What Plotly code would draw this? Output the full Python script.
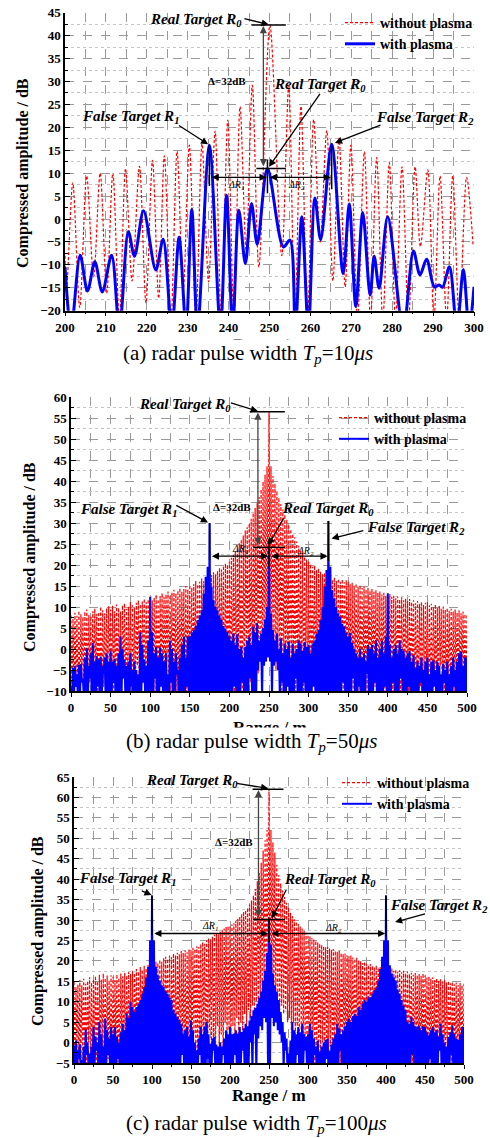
import numpy as np
import plotly.graph_objects as go

# ---------------- (a) Tp = 10 us : lobe-by-lobe readings ----------------
A_RED_X = [200.0, 200.4, 201.9, 203.6, 205.3, 207.0, 208.6, 210.2, 211.7, 213.3, 214.8, 216.4,
           218.2, 219.8, 221.4, 222.9, 224.3, 225.9, 227.4, 228.9, 230.4, 232.0, 233.5, 235.1,
           236.7, 238.2, 239.8, 241.3, 242.8, 244.3, 245.8, 247.4, 250.1, 253.0, 254.7, 256.2,
           257.7, 259.3, 260.8, 262.4, 264.0, 265.5, 267.0, 268.5, 269.9, 271.5, 273.2, 274.7,
           276.2, 277.7, 279.3, 280.8, 282.4, 284.0, 285.6, 286.9, 288.7, 290.2, 291.7, 293.3,
           294.8, 296.4, 298.2, 299.8]
A_RED_Y = [-8, -15, 7.9, -19.3, 9.4, -12.6, 10.0, -16.2, 10.0, -22, 11.0, -13.5,
           11.5, -18.3, 12.8, -17.3, 13.8, -22, 14.8, -15.8, 16.1, -22, 16.4, -13.7,
           19.2, -22, 21.6, -22, 24.5, -7, 29.2, -10.5, 42.3, -8, 29.0, -22,
           24.6, -22, 21.7, -5, 19.3, -13.5, 17.6, -14.8, 16.1, -22, 14.7, -22,
           13.4, -22, 12.3, -22, 11.4, -22, 11.4, -6, 10.7, -22, 9.4, -22,
           9.4, -22, 9.1, -6]
A_BLUE_X = [200.0, 201.5, 203.7, 205.5, 207.3, 209.1, 211.4, 213.3, 215.5, 217.0, 219.2, 222.2,
            224.0, 226.1, 227.9, 229.6, 231.0, 232.4, 235.3, 238.0, 239.5, 241.0, 242.5, 244.1,
            245.6, 247.0, 249.5, 253.4, 255.0, 256.3, 257.9, 259.5, 261.1, 262.5, 265.2, 268.0,
            269.5, 271.1, 272.8, 274.6, 275.6, 276.8, 278.9, 282.7, 285.2, 286.8, 288.4, 290.3,
            291.5, 292.3, 294.0, 295.8, 297.4, 298.8, 300.0]
A_BLUE_Y = [-10.5, -24, -7.9, -15.7, -9.3, -15.9, -7.9, -24, -2.8, -8.1, 1.8, -11.1,
            -4.4, -24, -4.0, -24, 2.1, -24, 16.1, -24, 5.2, -24, 1.9, -9.7,
            3.4, -5.5, 11.0, -6.1, -4.6, -24, 0.5, -24, 4.6, -4.5, 16.3, -11.9,
            3.3, -19.1, 1.4, -16.6, -8.1, -15.1, 0.5, -24, -7.0, -12.2, -8.8, -14.8,
            -14.4, -14.9, -10.4, -24, -11.0, -24, -14.8]

# ---------------- (b) Tp = 50 us : lobe tops every 2.5 m, nulls between ----------------
B_RED_PEAKS = [
    8.0, 7.2, 8.6, 7.9, 9.1, 8.3, 7.6, 8.9, 9.4, 8.1, 7.8, 9.0, 9.6, 8.4, 8.8, 10.1, 9.2, 8.5, 9.7, 10.2,
    9.4, 10.3, 9.0, 10.6, 9.8, 8.9, 10.4, 10.9, 9.6, 10.1, 11.2, 10.4, 9.9, 11.0, 11.6, 10.7, 11.3, 12.0, 11.1, 11.8,
    12.4, 11.6, 12.2, 12.9, 11.8, 12.6, 13.3, 12.4, 13.0, 13.7, 12.8, 13.4, 14.1, 13.2, 13.9, 14.5, 13.6, 14.3, 15.0, 14.2,
    15.2, 14.6, 15.5, 16.2, 15.4, 16.0, 16.8, 16.1, 16.6, 17.4, 16.9, 17.6, 18.3, 17.8, 18.6, 19.3, 18.9, 19.8, 20.4, 20.1,
    20.8, 21.7, 22.4, 23.3, 24.0, 25.2, 26.1, 27.0, 28.2, 29.0, 29.9, 31.0, 32.4, 33.6, 34.7, 36.2, 38.0, 39.8, 41.5, 43.5,
    56.5, 43.5, 41.2, 39.4, 37.6, 36.0, 34.5, 33.2, 32.0, 30.8, 29.6, 28.5, 27.4, 26.6, 25.6, 24.6, 23.6, 22.8, 22.0, 21.3,
    20.8, 20.2, 19.6, 19.9, 18.8, 19.2, 18.4, 17.8, 18.1, 17.2, 16.8, 17.3, 16.5, 17.0, 16.2, 16.7, 16.0, 16.6, 15.9, 16.4,
    16.0, 15.4, 15.8, 15.1, 15.6, 14.8, 15.2, 14.5, 14.9, 14.2, 14.6, 13.9, 14.3, 13.6, 14.0, 13.4, 13.7, 13.0, 13.4, 12.7,
    12.8, 13.1, 12.4, 12.7, 12.1, 12.5, 11.8, 12.3, 11.6, 12.0, 11.4, 11.9, 11.2, 11.6, 10.9, 11.4, 10.8, 11.2, 10.5, 11.0,
    11.2, 10.4, 10.8, 10.0, 10.6, 9.8, 10.3, 9.6, 10.1, 9.3, 9.8, 9.1, 9.6, 8.9, 9.4, 8.7, 9.2, 8.5, 8.9, 8.3,
    8.4]
B_RED_NULLS = [
    -12, -12, -9, -12, -12, -7, -12, -12, -12, -8, -12, -12, -6, -12, -12, -12, -9, -12, -12, -5,
    -12, -12, -8, -12, -12, -12, -6, -12, -12, -9, -12, -12, -12, -4, -12, -12, -7, -12, -12, -12,
    -12, -6, -12, -12, -12, -8, -12, -12, -3, -12, -12, -12, -7, -12, -12, -12, -5, -12, -12, -9,
    -12, -12, -6, -12, -12, -12, -4, -12, -12, -8, -12, -12, -12, -2, -12, -12, -6, -12, -12, -12,
    -12, -9, -12, -12, -5, -12, -12, -12, -3, -12, -8, -12, -4, -12, -6, -2, -5, -1, -3, 0,
    0, -3, -1, -5, -2, -6, -12, -4, -12, -8, -12, -3, -12, -12, -7, -12, -12, -12, -5, -12,
    -12, -12, -8, -12, -12, -4, -12, -12, -12, -6, -12, -12, -9, -12, -12, -12, -3, -12, -12, -7,
    -12, -12, -12, -5, -12, -12, -8, -12, -12, -12, -4, -12, -12, -9, -12, -12, -12, -6, -12, -12,
    -12, -7, -12, -12, -12, -3, -12, -12, -8, -12, -12, -12, -5, -12, -12, -12, -9, -12, -12, -6,
    -12, -12, -12, -8, -12, -12, -4, -12, -12, -12, -7, -12, -12, -12, -9, -12, -12, -5, -12, -12]
B_BLUE_PEAKS = [
    -9, -4.5, -4, -6, -3.8, -3.6, -7, -2, 0.2, -4, -1, 1.4, -3, -1.7, -2.5, -1.8, -4, -2, -1, -3,
    -0.4, -3, -2.3, -4, -1, 3, 0, -2.5, -4, -3, -1, -5, -3, -5, -6, 4, 1, -2.5, -4, 2,
    12.4, 4, -1, 0.4, -2, 0.4, -1, -3, -1, -6, 2, 0, -3, -1, -5, -2, 1, 3, -2, 3,
    3, 4, 4.5, 5.5, 6.9, 8, 9.2, 13.2, 17.2, 19.6, 30, 14.8, 11.6, 10, 9.2, 8, 6.9, 5.5, 4.9, 4,
    3, 2, 3.7, 1, 3.5, 0, 0.5, -2, 0.5, 2, 3, 1, 5.3, 4, 6.1, 2, 3.7, 5, 7, 10,
    24, 8.4, 4.5, 2, 3.7, 0, 2.5, -1, 1.3, 0, 1.7, -2, 1.3, -1, 0, 2, 1.3, -0.5, 1.7, 0.5,
    1, -1, 1.3, 2, 3.7, 4.5, 6.9, 10, 14.8, 18.8, 30.5, 19.6, 14, 12, 10, 8.5, 7.7, 6, 5.3, 3.8,
    3, 3.8, 1.4, 0, -1, -2, 0, -2, -1, -3, 1, 0, 1, -1, 2, -2, 0, 2, -1, 3,
    13.3, 1, -2, 0, 1, -1, 2.1, 0, -0.5, -2, -1, -0.5, -3, -1.5, -4.6, -3, -4, -2, -5, -3,
    -2, -6, -3, -2.7, -5, -3, -4, -6, -3.5, -5, -3, -6, -4, -2, -5, -3, -1, -0.6, -4, -2,
    -2]
B_BLUE_NULLS = [
    -12, -12, -9, -12, -12, -8, -12, -12, -12, -7, -12, -12, -12, -9, -12, -12, -6, -12, -12, -12,
    -12, -8, -12, -12, -12, -12, -7, -12, -12, -12, -9, -12, -12, -12, -12, -12, -8, -12, -12, -12,
    -12, -12, -7, -12, -12, -9, -12, -12, -12, -12, -8, -12, -12, -6, -12, -12, -12, -12, -9, -12,
    -12, -12, -12, -12, -12, -12, -12, -12, -12, -12, -12, -12, -12, -12, -12, -12, -12, -12, -12, -12,
    -12, -12, -9, -12, -12, -12, -8, -12, -12, -12, -7, -12, -12, -12, -5, -3, -12, -4, -3, -2,
    -3, -12, -4, -3, -5, -12, -8, -12, -12, -9, -12, -12, -12, -7, -12, -12, -12, -8, -12, -12,
    -12, -12, -9, -12, -12, -12, -12, -12, -12, -12, -12, -12, -12, -12, -12, -12, -12, -8, -12, -12,
    -12, -12, -7, -12, -12, -9, -12, -12, -12, -6, -12, -12, -12, -8, -12, -12, -12, -12, -9, -12,
    -12, -12, -8, -12, -12, -12, -7, -12, -12, -12, -9, -12, -12, -12, -12, -12, -8, -12, -12, -12,
    -12, -12, -12, -9, -12, -12, -12, -12, -8, -12, -12, -12, -12, -9, -12, -12, -12, -12, -12, -12]

# ---------------- (c) Tp = 100 us ----------------
C_RED_PEAKS = [
    14.8, 13.6, 14.2, 15.3, 14.0, 15.6, 14.4, 15.1, 16.0, 14.7, 15.5, 16.3, 15.0, 16.6, 15.4, 16.9, 15.8, 16.4, 15.2, 16.5,
    16.1, 15.3, 16.7, 15.8, 16.9, 16.2, 17.0, 16.4, 17.3, 16.8, 17.6, 17.0, 18.0, 17.4, 18.5, 17.8, 18.8, 18.2, 19.0, 18.6,
    19.3, 18.8, 19.8, 19.4, 20.3, 19.8, 20.7, 21.0, 20.5, 21.3, 20.9, 21.8, 21.3, 22.0, 21.6, 22.4, 21.9, 22.6, 22.1, 22.8,
    22.6, 23.2, 22.9, 23.6, 23.4, 24.1, 24.6, 24.2, 25.0, 25.5, 25.2, 25.9, 26.4, 26.7, 26.5, 27.2, 27.6, 27.9, 28.3, 28.5,
    28.4, 28.9, 29.2, 29.8, 30.3, 30.9, 31.5, 32.0, 32.4, 33.0, 33.8, 34.8, 36.0, 37.6, 39.5, 41.5, 44.0, 47.0, 49.5, 52.0,
    62.0, 52.0, 49.0, 46.5, 43.5, 41.0, 39.0, 37.2, 35.6, 34.2, 33.0, 31.8, 30.9, 30.2, 29.6, 29.0, 28.4, 27.9, 27.4, 26.9,
    26.4, 26.0, 25.6, 25.2, 24.9, 24.5, 24.2, 23.9, 23.6, 23.3, 23.4, 23.0, 22.7, 22.9, 22.4, 22.2, 22.5, 21.9, 21.6, 21.8,
    21.4, 21.1, 21.3, 20.8, 20.5, 20.8, 20.2, 19.9, 19.5, 19.8, 19.3, 19.0, 19.2, 18.8, 18.5, 18.9, 18.3, 18.6, 18.0, 18.4,
    18.5, 18.1, 17.8, 18.2, 17.6, 17.9, 17.4, 17.7, 17.2, 17.6, 17.0, 17.4, 16.8, 17.1, 16.6, 17.0, 16.5, 16.8, 16.3, 16.9,
    16.4, 15.9, 16.2, 15.6, 16.0, 15.3, 15.7, 15.1, 15.5, 14.9, 15.3, 14.7, 15.1, 14.5, 14.9, 14.3, 14.7, 14.1, 14.6, 14.0,
    14.4]
C_RED_NULLS = [
    -7, -2, -7, -7, -4, -7, -7, 0, -7, -7, -3, -7, -7, -7, -1, -7, -7, -4, -7, -7,
    -7, -2, -7, -7, 1, -7, -7, -3, -7, -7, -7, 0, -7, -7, -4, -7, -7, -7, -2, -7,
    -7, -7, 1, -7, -4, -7, -7, 2, -7, -7, -1, -7, -7, 3, -7, -3, -7, -7, 0, -7,
    -7, 2, -4, -7, -1, -7, 1, -3, -7, 3, -2, 0, -7, 4, -1, 2, -3, 5, 1, 3,
    0, 4, 2, 6, 1, 5, 3, 7, 4, 8, 6, 9, 7, 10, 8, 11, 10, 12, 11, 13,
    13, 11, 12, 10, 11, 8, 9, 7, 8, 5, 6, 3, 5, 2, 4, 0, 3, -2, 1, -3,
    0, -4, -1, -7, -2, -7, -3, 0, -7, -4, -7, -1, -7, -7, -3, -7, -7, -2, -7, -7,
    -4, -7, -7, -1, -7, -7, -3, -7, -7, -7, -2, -7, -7, -4, -7, -7, 0, -7, -7, -3,
    -7, -7, -1, -7, -7, -4, -7, -7, -7, -2, -7, -7, -3, -7, -7, 1, -7, -7, -4, -7,
    -7, -2, -7, -7, -5, -7, -7, -1, -7, -7, -7, -3, -7, -7, -4, -7, -7, -2, -7, -7]
C_BLUE_PEAKS = [
    -0.7, 0.5, -1.9, -0.5, -4.3, -1, 3.2, 0, -2.7, -1, 3.8, 1.5, 0, 5, 2, -1, 5.9, 3, 1, 3.8,
    2, 3.8, 1.4, 0, 2.5, 4.6, 3, 7.1, 6, 10, 8.7, 7.5, 8.7, 9.5, 10.4, 12, 13.6, 16, 18.5, 25,
    36, 25, 18.5, 16.5, 15.2, 14, 13.6, 12.5, 12, 11, 10.4, 8, 7.1, 6.3, 5.5, 4.6, 2.2, 3, 3.8, 1.5,
    5.4, 3, 0, -1.9, 1, 3.8, 2, 4, 5, 2, -0.3, 1, 1.4, -0.5, -1, 0, -1, 1, 3, 2,
    3.8, 2, 2.2, 3, 2.2, 3.8, 2.6, 3.5, 4.6, 4, 5.4, 6.5, 7.9, 8.5, 9.5, 11, 12.5, 15.2, 17.5, 22,
    30, 24, 16.9, 14, 12.5, 10.4, 7.5, 5, 2.5, 1, -2.7, 0.5, 5, 3, 2, 3.8, 2.5, 4.6, 2, 1.4,
    2, 4.6, 3, 1, -1, 0.5, -2.2, -1, 0, 0.6, 1, -2, -0.5, 1, 2, 4.6, 3.5, 2, 3, 4,
    5, 5.9, 5, 6.5, 7.1, 6.5, 8.7, 8, 9.5, 10.4, 10, 11.2, 11, 12, 12.8, 13.5, 15.2, 18, 21, 25,
    36, 25, 18.9, 16.9, 16, 15.2, 13, 12, 10.4, 9, 7.9, 5, 4.6, 6.3, 5, 4, 3.8, 4.2, 3, 4,
    3.8, 2.5, 1.8, 3, 3.8, 2.5, 3, 1.5, 4.6, 2, 0, -1, 1.4, 2.5, 4.2, 2, 1, 0.6, 2, 3.8,
    3.8]
C_BLUE_NULLS = [
    -7, -7, -4, -7, -7, -7, -3, -7, -7, -7, -7, -2, -7, -7, -7, -7, -7, -3, -7, -7,
    -7, -7, -4, -7, -7, -7, -7, -7, -7, -7, -7, -7, -7, -7, -7, -7, -7, -7, -7, -7,
    -7, -7, -7, -7, -7, -7, -7, -7, -7, -7, -7, -7, -7, -7, -7, -3, -7, -7, -7, -7,
    -7, -7, -7, -7, -3, -7, -7, -7, -4, -7, -7, -2, -7, -7, -7, -7, -3, -7, -7, -7,
    -7, -7, -3, -7, -7, -7, -2, -7, -7, -7, 0, -7, 2, -7, 1, 4, 3, 6, 5, -7,
    -7, 6, 4, 5, 3, 2, 0, -7, -2, -7, -7, -7, -7, -7, -3, -7, -7, -7, -2, -7,
    -7, -7, -7, -3, -7, -7, -7, -7, -7, -4, -7, -7, -7, -7, -7, -7, -2, -7, -7, -7,
    -7, -7, -7, -7, -7, -7, -7, -7, -7, -7, -7, -7, -7, -7, -7, -7, -7, -7, -7, -7,
    -7, -7, -7, -7, -7, -7, -7, -7, -7, -7, -7, -7, -7, -3, -7, -7, -7, -7, -7, -7,
    -7, -7, -4, -7, -7, -7, -7, -2, -7, -7, -7, -7, -7, -3, -7, -7, -7, -7, -7, -7]

LOBE_STEP = 2.5   # range sample spacing of the lobe readings (m)

CAPTIONS = ["(a) radar pulse width <i>T<sub>p</sub></i>=10<i>μs</i>",
            "(b) radar pulse width <i>T<sub>p</sub></i>=50<i>μs</i>",
            "(c) radar pulse width <i>T<sub>p</sub></i>=100<i>μs</i>"]

SERIF = "Liberation Serif"
RED = "#ff0000"
BLUE = "#0000ff"


def zigzag(peaks, nulls):
    assert len(peaks) == len(nulls) + 1
    xs, ys = [], []
    for i, p in enumerate(peaks):
        xs.append(i * LOBE_STEP)
        ys.append(p)
        if i < len(nulls):
            xs.append(i * LOBE_STEP + LOBE_STEP / 2)
            ys.append(nulls[i])
    return xs, ys


fig = go.Figure()

# (a)
fig.add_trace(go.Scatter(x=A_RED_X, y=A_RED_Y, mode="lines", name="without plasma",
                         line=dict(color=RED, width=1.2, dash="3px,2px", shape="spline", smoothing=0.9),
                         xaxis="x", yaxis="y", legend="legend"))
fig.add_trace(go.Scatter(x=A_BLUE_X, y=A_BLUE_Y, mode="lines", name="with plasma",
                         line=dict(color=BLUE, width=3, shape="spline", smoothing=0.9),
                         xaxis="x", yaxis="y", legend="legend"))
# (b)
bx, by = zigzag(B_RED_PEAKS, B_RED_NULLS)
fig.add_trace(go.Scatter(x=bx, y=by, mode="lines", name="without plasma",
                         line=dict(color=RED, width=1.2, dash="3px,2px"),
                         xaxis="x2", yaxis="y2", legend="legend2"))
bx, by = zigzag(B_BLUE_PEAKS, B_BLUE_NULLS)
fig.add_trace(go.Scatter(x=bx, y=by, mode="lines", name="with plasma",
                         line=dict(color=BLUE, width=2),
                         xaxis="x2", yaxis="y2", legend="legend2"))
# (c)
cx, cy = zigzag(C_RED_PEAKS, C_RED_NULLS)
fig.add_trace(go.Scatter(x=cx, y=cy, mode="lines", name="without plasma",
                         line=dict(color=RED, width=1.2, dash="3px,2px"),
                         xaxis="x3", yaxis="y3", legend="legend3"))
cx, cy = zigzag(C_BLUE_PEAKS, C_BLUE_NULLS)
fig.add_trace(go.Scatter(x=cx, y=cy, mode="lines", name="with plasma",
                         line=dict(color=BLUE, width=2),
                         xaxis="x3", yaxis="y3", legend="legend3"))

W, H = 490, 1138


def px_dom(a, b, total):
    return [a / total, b / total]


def ydom(top, bottom):
    return [1 - bottom / H, 1 - top / H]


tickfont = dict(family=SERIF, size=13, color="black", weight="bold")


def xaxis(dom, rng, dtick, mdtick, anchor):
    return dict(domain=dom, range=rng, dtick=dtick, tick0=rng[0], anchor=anchor,
                showline=True, linecolor="black", linewidth=1.5, mirror=False,
                ticks="outside", ticklen=4, tickwidth=1.2, tickcolor="black",
                tickfont=tickfont, zeroline=False, automargin=False,
                showgrid=True, gridcolor="#9a9a9a", gridwidth=1, griddash="dash",
                minor=dict(dtick=mdtick, tick0=rng[0], ticks="outside", ticklen=2, tickcolor="black",
                           showgrid=True, gridcolor="#9a9a9a", griddash="dash", gridwidth=1))


def yaxis(dom, rng, anchor):
    return dict(domain=dom, range=rng, dtick=5, tick0=rng[0], anchor=anchor,
                showline=True, linecolor="black", linewidth=1.5, mirror=False,
                ticks="inside", ticklen=5, tickwidth=1.2, tickcolor="black",
                tickfont=tickfont, zeroline=False, automargin=False,
                showgrid=True, gridcolor="#9a9a9a", gridwidth=1, griddash="dash",
                minor=dict(dtick=2.5, tick0=rng[0], ticks="inside", ticklen=3, tickcolor="black",
                           showgrid=True, gridcolor="#c4c4c4", griddash="dot", gridwidth=1))


layout = dict(
    width=W, height=H, margin=dict(l=0, r=0, t=0, b=0, autoexpand=False),
    paper_bgcolor="white", plot_bgcolor="white",
    xaxis=xaxis(px_dom(65, 474, W), [200, 300], 10, 5, "y"),
    yaxis=yaxis(ydom(12.7, 310.7), [-20, 45], "x"),
    xaxis2=xaxis(px_dom(71, 467, W), [0, 500], 50, 25, "y2"),
    yaxis2=yaxis(ydom(397, 691), [-10, 60], "x2"),
    xaxis3=xaxis(px_dom(74, 464, W), [0, 500], 50, 25, "y3"),
    yaxis3=yaxis(ydom(777, 1063), [-5, 65], "x3"),
)
legfont = dict(family=SERIF, size=14, color="black", weight="bold")
for key, lx, ltop in [("legend", 340, 7), ("legend2", 334, 402), ("legend3", 337, 767)]:
    layout[key] = dict(x=lx / W, y=1 - ltop / H, xanchor="left", yanchor="top",
                       bgcolor="rgba(0,0,0,0)", font=legfont, tracegroupgap=0,
                       itemwidth=30)
fig.update_layout(**layout)

ann = []
shapes = []


def ref(i):
    return ("x", "y") if i == 1 else (f"x{i}", f"y{i}")


def label(i, x, y, text, size=15):
    xr, yr = ref(i)
    ann.append(dict(x=x, y=y, xref=xr, yref=yr, text=text, showarrow=False,
                    xanchor="center", yanchor="middle",
                    font=dict(family=SERIF, size=size, color="black")))


def arrow(i, x0, y0, x1, y1, both=False, color="black", width=1.3):
    xr, yr = ref(i)
    ann.append(dict(x=x1, y=y1, ax=x0, ay=y0, xref=xr, yref=yr, axref=xr, ayref=yr,
                    text="", showarrow=True, arrowhead=2, arrowsize=1.1, arrowwidth=width,
                    arrowcolor=color, arrowside="end+start" if both else "end",
                    standoff=0, startstandoff=0))


def seg(i, x0, y0, x1, y1, width=1.5, color="black"):
    xr, yr = ref(i)
    shapes.append(dict(type="line", xref=xr, yref=yr, x0=x0, y0=y0, x1=x1, y1=y1,
                       line=dict(color=color, width=width)))


RT = "<b><i>Real Target R<sub>0</sub></i></b>"
F1 = "<b><i>False Target R<sub>1</sub></i></b>"
F2 = "<b><i>False Target R<sub>2</sub></i></b>"
DB = "<b>Δ=32dB</b>"
DR1 = "<i>ΔR<sub>1</sub></i>"
DR2 = "<i>ΔR<sub>2</sub></i>"

# ---- (a) annotations
label(1, 232.0, 43.4, RT)
arrow(1, 243.5, 43.8, 249.8, 42.4)
seg(1, 245.6, 42.3, 254.0, 42.3)
arrow(1, 248.5, 11.2, 248.5, 42.1, both=True, color="#444")
label(1, 239.5, 30.0, DB, size=11)
label(1, 262.3, 29.2, RT)
arrow(1, 262.6, 27.6, 249.9, 11.4)
seg(1, 246.8, 11.0, 254.0, 11.0)
seg(1, 249.5, 5.6, 249.5, 13.0)
label(1, 216.0, 22.3, F1)
arrow(1, 227.5, 20.6, 235.0, 16.3)
seg(1, 235.3, 16.0, 235.3, 7.2)
arrow(1, 235.5, 9.1, 249.3, 9.1, both=True)
label(1, 241.8, 7.4, DR1, size=10)
seg(1, 265.2, 16.0, 265.2, 6.5)
arrow(1, 249.7, 9.1, 265.0, 9.1, both=True)
label(1, 256.6, 7.3, DR2, size=10)
label(1, 288.0, 22.0, F2)
arrow(1, 277.5, 20.6, 266.0, 16.6)

# ---- (b) annotations
label(2, 144, 58.2, RT)
arrow(2, 200, 58.7, 236, 56.6)
seg(2, 225.6, 56.5, 270, 56.5)
arrow(2, 236, 24.4, 236, 56.3, both=True, color="#444")
label(2, 203, 33.7, DB, size=11)
label(2, 325, 33.4, RT)
arrow(2, 270, 31.6, 249, 24.7)
seg(2, 230, 24.2, 270, 24.2)
seg(2, 250, 19.6, 250, 26.0)
label(2, 73, 33.0, F1)
arrow(2, 131, 34.4, 173, 30.1)
seg(2, 175, 30.0, 175, 21.2)
arrow(2, 176, 22.1, 249, 22.1, both=True)
label(2, 213, 23.6, DR1, size=10)
seg(2, 325, 30.5, 325, 21.0)
arrow(2, 251, 22.1, 324, 22.1, both=True)
label(2, 296, 23.3, DR2, size=10)
label(2, 436, 28.7, F2)
arrow(2, 371, 28.3, 329, 26.3)

# ---- (c) annotations
label(3, 151, 63.9, RT)
arrow(3, 206.7, 63.5, 249, 62.2)
seg(3, 229, 62.0, 268.6, 62.0)
arrow(3, 236.5, 30.3, 236.5, 61.8, both=True, color="#444")
label(3, 205, 49.1, DB, size=11)
label(3, 328, 39.7, RT)
arrow(3, 273, 37.7, 253.6, 30.4)
seg(3, 230, 30.1, 270.7, 30.1)
seg(3, 250, 24.6, 250, 30.7)
label(3, 69, 40.0, F1)
arrow(3, 85, 37.3, 99.5, 36.1)
seg(3, 100, 36.0, 100, 26.3)
arrow(3, 101, 26.7, 249, 26.7, both=True)
label(3, 174.6, 28.3, DR1, size=10)
seg(3, 400, 36.0, 400, 26.0)
arrow(3, 251, 26.7, 399, 26.7, both=True)
label(3, 332.6, 28.0, DR2, size=10)
label(3, 468, 33.4, F2)
arrow(3, 452, 31.6, 411.6, 29.5)

# ---- axis titles and captions (paper coordinates)
ytitle = "<b>Compressed amplitude / dB</b>"
for xc, yc in [(23, 173), (30, 557), (38, 931)]:
    ann.append(dict(x=xc / W, y=1 - yc / H, xref="paper", yref="paper", text=ytitle,
                    showarrow=False, textangle=-90, xanchor="center", yanchor="middle",
                    font=dict(family=SERIF, size=16, color="black")))
for xc, yc in [(270, 344), (270, 727), (269, 1095)]:
    ann.append(dict(x=xc / W, y=1 - yc / H, xref="paper", yref="paper", text="<b>Range / m</b>",
                    showarrow=False, xanchor="center", yanchor="middle",
                    font=dict(family=SERIF, size=17, color="black")))
for cap, (xc, yc) in zip(CAPTIONS, [(248, 354), (252, 742), (256, 1124)]):
    ann.append(dict(x=xc / W, y=1 - yc / H, xref="paper", yref="paper", text=cap,
                    showarrow=False, bgcolor="white", borderpad=1,
                    xanchor="center", yanchor="middle",
                    font=dict(family=SERIF, size=21, color="black")))

fig.update_layout(annotations=ann, shapes=shapes)
fig.write_html("out.html")
